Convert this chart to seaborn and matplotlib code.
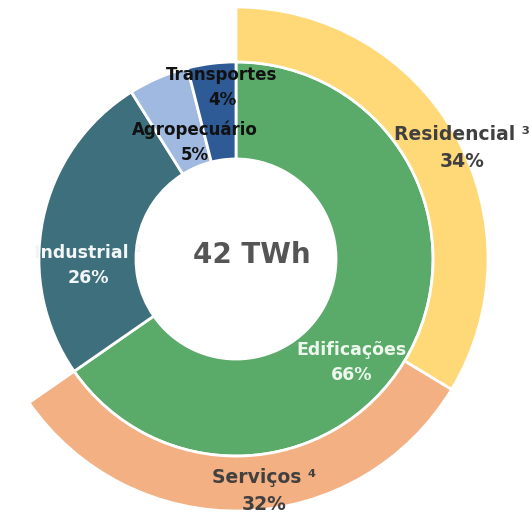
import matplotlib
matplotlib.use("Agg")
import matplotlib.pyplot as plt
import seaborn as sns

# inner ring: consumption share by sector (%)
sectors = ["Edificações", "Industrial", "Agropecuário", "Transportes"]
sector_share = [66, 26, 5, 4]
# outer ring: split of the Edificações share (%)
buildings = ["Residencial", "Serviços"]
building_share = [34, 32]
footnotes = {"Industrial": "²", "Residencial": "³", "Serviços": "⁴"}
total_label = "42 TWh"

sector_colors = ["#5AAA69", "#3E6F7C", "#A0B9E0", "#2E5A96"]
building_colors = ["#FFD978", "#F3B082"]

# label placement in pixels (x from left, y from top) and text style
label_pos = {
    "Edificações": (352, 363), "Industrial": (88, 266),
    "Agropecuário": (195, 142), "Transportes": (222, 88),
    "Residencial": (462, 148), "Serviços": (264, 491),
}
label_color = {
    "Edificações": "#EEF7EE", "Industrial": "#F2F6F7",
    "Agropecuário": "#111111", "Transportes": "#111111",
    "Residencial": "#404040", "Serviços": "#404040",
}
label_size = {
    "Edificações": 12.5, "Industrial": 12.5,
    "Agropecuário": 12, "Transportes": 12,
    "Residencial": 13.5, "Serviços": 13.5,
}

sns.set_theme(style="white")
plt.rcParams["font.family"] = ["DejaVu Sans"]

W, H = 530, 515
cx, cy, unit = 236, 259, 252.0  # pie centre and outer radius in pixels


def to_data(px, py):
    return (px - cx) / unit, (cy - py) / unit


fig = plt.figure(figsize=(W / 100, H / 100), dpi=100)
ax = fig.add_axes([0, 0, 1, 1])

edge = dict(edgecolor="white", linewidth=2)
ax.pie(sector_share, radius=0.782, colors=sector_colors, startangle=90,
       counterclock=False, wedgeprops=dict(width=0.385, **edge))

rest = sum(sector_share) - sum(building_share)
outer, _ = ax.pie(building_share + [rest], radius=1.0,
                  colors=building_colors + ["white"], startangle=90,
                  counterclock=False, wedgeprops=dict(width=0.218, **edge))
outer[-1].set_visible(False)

shares = dict(zip(sectors, sector_share))
shares.update(dict(zip(buildings, building_share)))
for name, val in shares.items():
    sup = " " + footnotes[name] if name in footnotes else ""
    x, y = to_data(*label_pos[name])
    ax.text(x, y, f"{name}{sup}\n{val}%", ha="center", va="center",
            fontsize=label_size[name], fontweight="bold",
            color=label_color[name], linespacing=1.5)

ax.text(*to_data(252, 255), total_label, ha="center", va="center",
        fontsize=20, fontweight="bold", color="#555555")

ax.set_xlim(-cx / unit, (W - cx) / unit)
ax.set_ylim(-(H - cy) / unit, cy / unit)
ax.set_aspect("equal")
ax.axis("off")

fig.savefig("out.png", dpi=100, facecolor="white")
